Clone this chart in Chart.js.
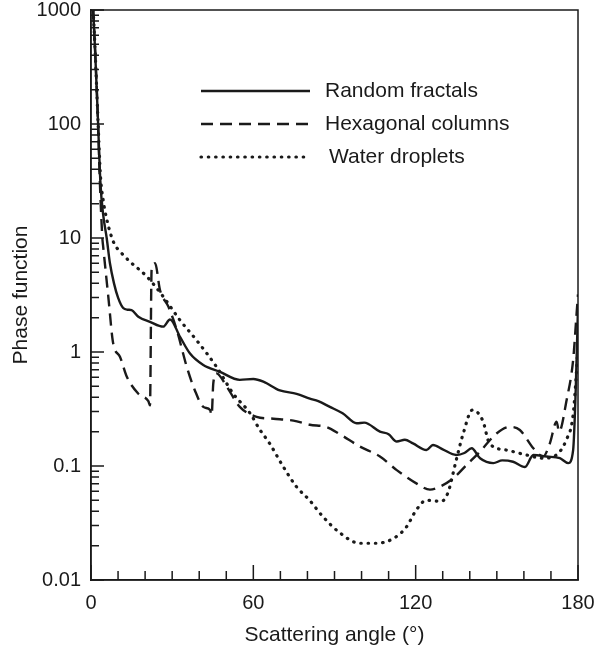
<!DOCTYPE html>
<html>
<head>
<meta charset="utf-8">
<script src="https://cdn.jsdelivr.net/npm/chart.js@4.4.1/dist/chart.umd.min.js"></script>
<style>
  html, body { margin: 0; padding: 0; background: #fff; }
  #wrap { width: 596px; height: 650px; }
</style>
</head>
<body>
<div id="wrap"><canvas id="phase"></canvas></div>
<script>
// scattering angle (deg) and phase function values
var fractalAngle = [0.8, 1.5, 2.5, 3.5, 4.5, 5.8, 7, 8.5, 10, 11.9, 13.5, 15, 17.5, 21.8, 26.7, 29.2, 32.9, 36.6, 41.5, 47.7, 55, 60, 63.7, 69.8, 76, 80.9, 84, 88.3, 93, 98.2, 101, 106.8, 110, 113, 116, 119, 124, 126.4, 130, 135, 138, 140.7, 143.8, 148.7, 152, 156, 160.4, 163.5, 168.4, 173.3, 176.4, 178.2, 179.2, 180];
var fractalValue = [1000, 450, 120, 30, 16, 10, 6, 4, 3, 2.43, 2.35, 2.33, 2.04, 1.84, 1.67, 1.93, 1.36, 0.97, 0.77, 0.67, 0.57, 0.58, 0.55, 0.46, 0.43, 0.39, 0.37, 0.33, 0.29, 0.237, 0.24, 0.2, 0.19, 0.164, 0.17, 0.158, 0.138, 0.153, 0.14, 0.125, 0.13, 0.143, 0.117, 0.106, 0.112, 0.109, 0.098, 0.125, 0.121, 0.117, 0.106, 0.138, 0.5, 2.5];

var hexAngle = [0.8, 1.5, 2.5, 3.3, 4.2, 4.5, 6.4, 8.2, 10.7, 13.2, 17.5, 21.2, 21.8, 22.4, 23.7, 25.5, 28.6, 31.7, 35.4, 38.4, 41.5, 44, 44.6, 45.2, 46.4, 50.1, 55, 61.2, 67.4, 74.8, 80.9, 87, 92, 99.4, 106.8, 113, 120.4, 125.3, 129, 133.9, 138.8, 143.8, 149.9, 154.8, 158.5, 163.5, 167.1, 169.6, 172.1, 173, 175.8, 178.2, 179.4, 180];
var hexValue = [1000, 450, 120, 30, 10, 8.4, 3.05, 1.19, 0.91, 0.61, 0.43, 0.37, 0.34, 5.25, 6.0, 3.5, 2.5, 1.56, 0.74, 0.46, 0.33, 0.31, 0.28, 0.53, 0.65, 0.5, 0.33, 0.27, 0.26, 0.25, 0.23, 0.22, 0.19, 0.148, 0.121, 0.092, 0.07, 0.062, 0.066, 0.078, 0.102, 0.134, 0.193, 0.22, 0.207, 0.143, 0.121, 0.158, 0.245, 0.2, 0.38, 0.85, 2.04, 3.2];

var dropAngle = [0.8, 1.5, 2.5, 3.5, 4.5, 6, 8.5, 11, 14.4, 20.6, 26.7, 32.9, 39, 46.4, 52.6, 58.8, 62.3, 66, 70.9, 75.9, 80.8, 85.7, 91.9, 99.3, 105.4, 111.6, 116.5, 120.2, 123.9, 129.5, 131.9, 135, 137.5, 141, 144.8, 147.3, 153.5, 160.9, 167, 172, 175.7, 178.1, 179.3, 180];
var dropValue = [1000, 450, 120, 35, 21.5, 14, 9, 7.5, 6.2, 4.6, 3.06, 1.9, 1.27, 0.74, 0.43, 0.29, 0.21, 0.158, 0.1, 0.066, 0.05, 0.036, 0.026, 0.021, 0.021, 0.023, 0.029, 0.041, 0.05, 0.049, 0.058, 0.113, 0.19, 0.31, 0.25, 0.158, 0.138, 0.125, 0.117, 0.125, 0.17, 0.27, 0.6, 1.2];

var seriesNames = ['Random fractals', 'Hexagonal columns', 'Water droplets'];
var yTickValues = [0.01, 0.1, 1, 10, 100, 1000];
var xLabelValues = [0, 60, 120, 180];

function pairs(xs, ys) {
  return xs.map(function (x, i) { return { x: x, y: ys[i] }; });
}

var INK = '#1a1a1a';
var FONT = "'Liberation Sans', Arial, sans-serif";

// inward ticks, frame box and the in-plot legend
var framePlugin = {
  id: 'frame',
  afterDraw: function (chart) {
    var c = chart.ctx, a = chart.chartArea;
    var xs = chart.scales.x, ys = chart.scales.y;
    c.save();
    c.strokeStyle = INK;
    c.lineWidth = 1.5;
    c.strokeRect(a.left, a.top, a.right - a.left, a.bottom - a.top);

    c.beginPath();
    for (var d = 0; d <= 180; d += 10) {
      var px = xs.getPixelForValue(d);
      var len = (d % 60 === 0) ? 15 : 9;
      c.moveTo(px, a.bottom);
      c.lineTo(px, a.bottom - len);
    }
    for (var e = -2; e <= 3; e++) {
      for (var m = 1; m <= 9; m++) {
        var v = m * Math.pow(10, e);
        if (v > 1000) break;
        var py = ys.getPixelForValue(v);
        var l = (m === 1) ? 13 : 8;
        c.moveTo(a.left, py);
        c.lineTo(a.left + l, py);
      }
    }
    c.stroke();

    // legend
    var rows = [91, 124, 157];
    chart.data.datasets.forEach(function (ds, i) {
      c.beginPath();
      c.lineWidth = ds.borderWidth;
      c.lineCap = ds.borderCapStyle || 'butt';
      c.setLineDash(ds.borderDash || []);
      c.moveTo(201, rows[i]);
      c.lineTo(i === 2 ? 306 : 310, rows[i]);
      c.stroke();
      c.setLineDash([]);
      c.fillStyle = INK;
      c.font = '21px ' + FONT;
      c.textBaseline = 'middle';
      c.fillText(ds.label, i === 2 ? 329 : 325, rows[i]);
    });
    c.restore();
  }
};

var ctx = document.getElementById('phase').getContext('2d');
var chart = new Chart(ctx, {
  type: 'line',
  data: {
    datasets: [{
      label: seriesNames[0],
      data: pairs(fractalAngle, fractalValue),
      borderColor: INK,
      borderWidth: 2.4,
      pointRadius: 0,
      cubicInterpolationMode: 'monotone'
    }, {
      label: seriesNames[1],
      data: pairs(hexAngle, hexValue),
      borderColor: INK,
      borderWidth: 2.4,
      borderDash: [12, 7],
      pointRadius: 0,
      cubicInterpolationMode: 'monotone'
    }, {
      label: seriesNames[2],
      data: pairs(dropAngle, dropValue),
      borderColor: INK,
      borderWidth: 3.2,
      borderDash: [0.5, 6.8],
      borderCapStyle: 'round',
      pointRadius: 0,
      cubicInterpolationMode: 'monotone'
    }]
  },
  options: {
    responsive: true,
    maintainAspectRatio: false,
    animation: false,
    layout: { padding: { left: 0, right: 18, top: 10, bottom: 0 } },
    plugins: { legend: { display: false }, tooltip: { enabled: false } },
    scales: {
      x: {
        type: 'linear',
        min: 0,
        max: 180,
        afterBuildTicks: function (scale) {
          scale.ticks = xLabelValues.map(function (v) { return { value: v }; });
        },
        afterFit: function (scale) {
          scale.height = 70;
          scale.paddingLeft = 0;
          scale.paddingRight = 0;
        },
        grid: { display: false, drawTicks: false },
        border: { display: true, color: INK, width: 1.5 },
        ticks: { color: INK, padding: 11, maxRotation: 0, font: { family: FONT, size: 20 } },
        title: {
          display: true,
          text: 'Scattering angle (°)',
          color: INK,
          font: { family: FONT, size: 21 },
          padding: { top: 0, bottom: 2 }
        }
      },
      y: {
        type: 'logarithmic',
        min: 0.01,
        max: 1000,
        afterBuildTicks: function (scale) {
          scale.ticks = yTickValues.map(function (v) { return { value: v }; });
        },
        afterFit: function (scale) {
          scale.width = 91;
          scale.paddingTop = 0;
          scale.paddingBottom = 0;
        },
        grid: { display: false, drawTicks: false },
        border: { display: true, color: INK, width: 1.5 },
        ticks: {
          color: INK,
          padding: 10,
          font: { family: FONT, size: 20 },
          callback: function (v) { return String(v); }
        },
        title: {
          display: true,
          text: 'Phase function',
          color: INK,
          font: { family: FONT, size: 21 },
          padding: { top: 9, bottom: 0 }
        }
      }
    }
  },
  plugins: [framePlugin]
});
</script>
</body>
</html>
